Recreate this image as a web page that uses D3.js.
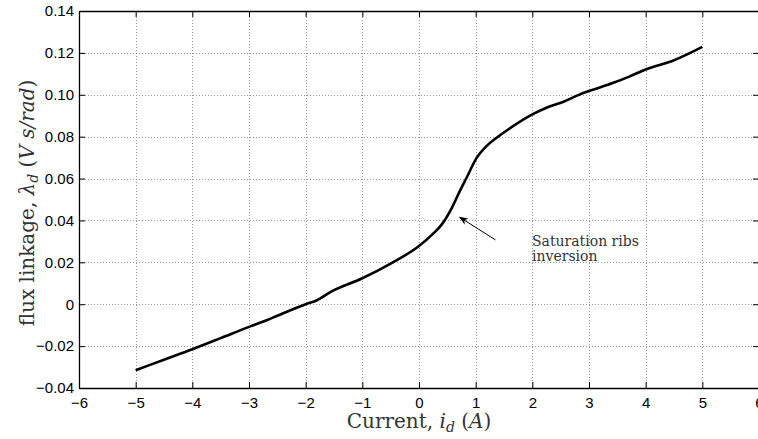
<!DOCTYPE html>
<html>
<head>
<meta charset="utf-8">
<script src="https://cdn.jsdelivr.net/npm/d3@7"></script>
<style>
  html, body { margin: 0; padding: 0; background: #fff; }
  svg { display: block; }
</style>
</head>
<body>
<svg id="chart" width="758" height="439"></svg>
<script>
// ---- data ----
const currentValues = [-5, -4.5, -4, -3.5, -3, -2.7, -2.5, -2, -1.8, -1.55, -1, -0.5, 0, 0.25, 0.4, 0.58, 0.72, 0.84, 1.02, 1.19, 1.37, 1.66, 2.0, 2.25, 2.55, 2.84, 3.0, 3.43, 3.72, 4.0, 4.49, 5.0];
const fluxValues = [-0.0315, -0.0265, -0.0215, -0.0162, -0.0108, -0.0078, -0.0055, 0.0, 0.0019, 0.006, 0.0124, 0.0194, 0.0278, 0.0337, 0.038, 0.046, 0.054, 0.0604, 0.070, 0.0755, 0.0795, 0.085, 0.0906, 0.0938, 0.0967, 0.1002, 0.1018, 0.1057, 0.1088, 0.1121, 0.1164, 0.1229];
const xTicks = [-6, -5, -4, -3, -2, -1, 0, 1, 2, 3, 4, 5, 6];
const yTicks = [-0.04, -0.02, 0, 0.02, 0.04, 0.06, 0.08, 0.10, 0.12, 0.14];
const xDomain = [-6, 6];
const yDomain = [-0.04, 0.14];
const annotationLines = ["Saturation ribs", "inversion"];
const annotationTip = [0.72, 0.0415];
const annotationTail = [1.35, 0.0307];

// ---- layout ----
const L = 79, R = 759, T = 11, B = 388;
const svg = d3.select("#chart");
const x = d3.scaleLinear().domain(xDomain).range([L, R]);
const y = d3.scaleLinear().domain(yDomain).range([B, T]);

const fmtY = v => Math.abs(v) < 1e-9 ? "0" : (v < 0 ? "\u2212" : "") + Math.abs(v).toFixed(2);
const fmtX = v => (v < 0 ? "\u2212" : "") + Math.abs(v);

// grid
const grid = svg.append("g").attr("stroke", "#999").attr("stroke-width", 1).attr("stroke-dasharray", "1,2");
xTicks.slice(1, -1).forEach(t => {
  grid.append("line").attr("x1", Math.round(x(t)) + 0.5).attr("x2", Math.round(x(t)) + 0.5).attr("y1", T).attr("y2", B);
});
yTicks.slice(1, -1).forEach(t => {
  grid.append("line").attr("y1", Math.round(y(t)) + 0.5).attr("y2", Math.round(y(t)) + 0.5).attr("x1", L).attr("x2", R);
});

// axes (box with inward ticks)
const tickLen = 6;
const bottomAxis = d3.axisBottom(x).tickValues(xTicks).tickSizeInner(-tickLen).tickSizeOuter(0).tickPadding(9).tickFormat(fmtX);
const topAxis = d3.axisTop(x).tickValues(xTicks).tickSizeInner(-tickLen).tickSizeOuter(0).tickFormat("");
const leftAxis = d3.axisLeft(y).tickValues(yTicks).tickSizeInner(-tickLen).tickSizeOuter(0).tickPadding(5).tickFormat(fmtY);
const rightAxis = d3.axisRight(y).tickValues(yTicks).tickSizeInner(-tickLen).tickSizeOuter(0).tickFormat("");

function styleAxis(g) {
  g.selectAll("path").attr("stroke", "#000").attr("stroke-width", 1.3);
  g.selectAll("line").attr("stroke", "#000").attr("stroke-width", 1);
  g.selectAll("text").attr("fill", "#000").style("font-family", "'Liberation Sans', Arial, sans-serif").style("font-size", "15px");
}
svg.append("g").attr("transform", `translate(0,${B})`).call(bottomAxis).call(styleAxis);
svg.append("g").attr("transform", `translate(0,${T})`).call(topAxis).call(styleAxis);
svg.append("g").attr("transform", `translate(${L},0)`).call(leftAxis).call(styleAxis);
svg.append("g").attr("transform", `translate(${R},0)`).call(rightAxis).call(styleAxis);

// curve
const pts = currentValues.map((c, i) => [c, fluxValues[i]]);
svg.append("path")
  .datum(pts)
  .attr("fill", "none")
  .attr("stroke", "#000")
  .attr("stroke-width", 2.6)
  .attr("stroke-linejoin", "round")
  .attr("d", d3.line().x(d => x(d[0])).y(d => y(d[1])).curve(d3.curveMonotoneX));

// annotation arrow
const defs = svg.append("defs");
defs.append("marker").attr("id", "arrowhead").attr("viewBox", "0 0 10 10").attr("refX", 9).attr("refY", 5)
  .attr("markerWidth", 9).attr("markerHeight", 9).attr("markerUnits", "userSpaceOnUse").attr("orient", "auto")
  .append("path").attr("d", "M0,1 L10,5 L0,9 L3,5 Z").attr("fill", "#000");
svg.append("line")
  .attr("x1", x(annotationTail[0])).attr("y1", y(annotationTail[1]))
  .attr("x2", x(annotationTip[0])).attr("y2", y(annotationTip[1]))
  .attr("stroke", "#000").attr("stroke-width", 1)
  .attr("marker-end", "url(#arrowhead)");

const serif = "'DejaVu Serif', 'Liberation Serif', serif";
const ann = svg.append("text")
  .attr("x", 532).attr("y", 246)
  .style("font-family", serif)
  .style("font-size", "14px").attr("fill", "#333");
annotationLines.forEach((s, i) => {
  ann.append("tspan").attr("x", 532).attr("dy", i === 0 ? 0 : 15).text(s);
});

// axis labels
const xl = svg.append("text")
  .attr("x", x(0)).attr("y", 428).attr("text-anchor", "middle")
  .style("font-family", serif).style("font-size", "20px").attr("fill", "#333");
xl.append("tspan").text("Current, ");
xl.append("tspan").style("font-style", "italic").text("i");
xl.append("tspan").style("font-style", "italic").style("font-size", "14px").attr("dy", 4).text("d");
xl.append("tspan").attr("dy", -4).text(" (");
xl.append("tspan").style("font-style", "italic").text("A");
xl.append("tspan").text(")");

const yl = svg.append("text")
  .attr("transform", `translate(34,203) rotate(-90)`)
  .attr("text-anchor", "middle")
  .style("font-family", serif).style("font-size", "20px").attr("fill", "#333");
yl.append("tspan").text("flux linkage, ");
yl.append("tspan").style("font-style", "italic").text("\u03bb");
yl.append("tspan").style("font-style", "italic").style("font-size", "14px").attr("dy", 4).text("d");
yl.append("tspan").attr("dy", -4).text(" (");
yl.append("tspan").style("font-style", "italic").text("V s/rad");
yl.append("tspan").text(")");
</script>
</body>
</html>
